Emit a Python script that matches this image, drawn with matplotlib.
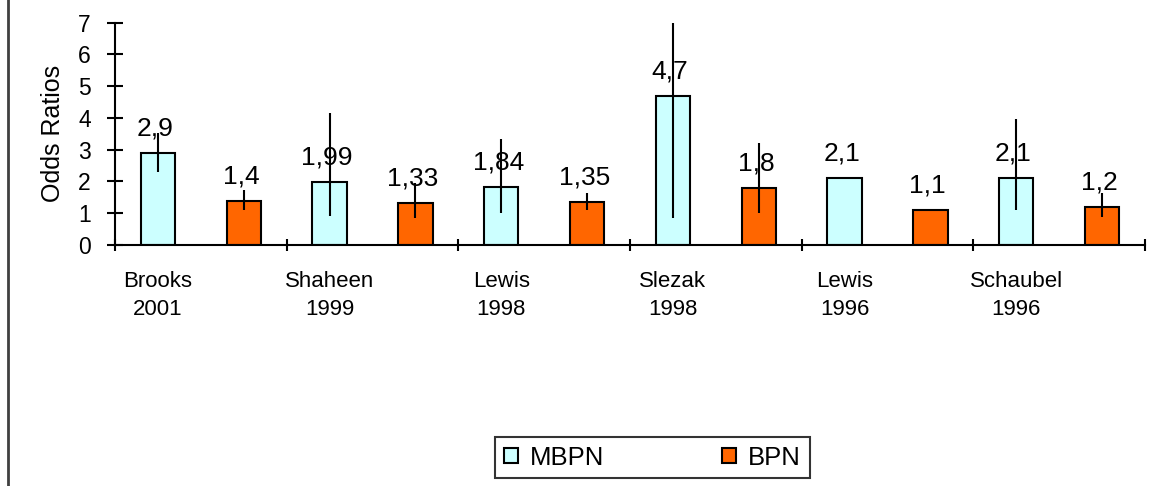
import matplotlib
matplotlib.use("Agg")
import matplotlib.pyplot as plt
from matplotlib.lines import Line2D
import numpy as np

plt.rcParams['font.family'] = ['Liberation Sans', 'DejaVu Sans']

studies = ["Brooks", "Shaheen", "Lewis", "Slezak", "Lewis", "Schaubel"]
years = ["2001", "1999", "1998", "1998", "1996", "1996"]
mbpn = [2.9, 1.99, 1.84, 4.7, 2.1, 2.1]
bpn = [1.4, 1.33, 1.35, 1.8, 1.1, 1.2]
mbpn_lo = [2.3, 0.9, 1.0, 0.84, np.nan, 1.1]
mbpn_hi = [3.52, 4.15, 3.33, 6.98, np.nan, 3.96]
bpn_lo = [1.1, 0.85, 1.1, 1.0, np.nan, 0.87]
bpn_hi = [1.73, 1.95, 1.63, 3.2, np.nan, 1.63]
series_names = ["MBPN", "BPN"]
colors = ["#CCFFFF", "#FF6600"]

W, H = 1158, 486
fig = plt.figure(figsize=(W / 100, H / 100), dpi=100)
ax = fig.add_axes([115 / W, 1 - 245 / H, 1030 / W, (245 - 22.7) / H])

x = np.arange(len(studies))
offs = [-0.25, 0.25]
vals_all = [mbpn, bpn]
lo_all = [mbpn_lo, bpn_lo]
hi_all = [mbpn_hi, bpn_hi]

for k in range(2):
    xs = x + offs[k]
    ax.bar(xs, vals_all[k], width=0.2, color=colors[k], edgecolor="black",
           linewidth=1.5, label=series_names[k], zorder=2)
    lo = np.array(lo_all[k], dtype=float)
    hi = np.array(hi_all[k], dtype=float)
    m = ~np.isnan(lo)
    ax.vlines(xs[m], lo[m], hi[m], color="black", linewidth=1.5, zorder=3)
    for xi, v in zip(xs, vals_all[k]):
        ax.annotate(f"{v:g}".replace(".", ","), (xi, v), xytext=(-2, 12.5),
                    textcoords="offset points", ha="center", va="baseline",
                    fontsize=19, zorder=4)

ax.set_xlim(-0.5, len(studies) - 0.5)
ax.set_ylim(0, 7)
ax.set_yticks(range(0, 8))
ax.tick_params(axis="y", direction="inout", length=11, width=1.5,
               labelsize=16.5, pad=12)
ax.set_xticks(np.arange(-0.5, len(studies) + 0.5, 1.0))
ax.set_xticklabels([])
ax.tick_params(axis="x", which="major", direction="inout", length=9, width=1.5)
ax.set_xticks(x - 0.25, [f"{s}\n{y}" for s, y in zip(studies, years)], minor=True)
ax.tick_params(axis="x", which="minor", length=0, labelsize=16, pad=18.5)
for t in ax.get_xticklabels(minor=True):
    t.set_linespacing(1.45)

for s in ["top", "right"]:
    ax.spines[s].set_visible(False)
for s in ["left", "bottom"]:
    ax.spines[s].set_linewidth(1.5)

ax.set_ylabel("Odds Ratios", fontsize=18)
ax.yaxis.set_label_coords(-0.049, 0.5)

leg = fig.legend(loc="center", bbox_to_anchor=(652.5 / W, 1 - 457.5 / H),
                 ncol=2, fontsize=18.5, frameon=True, fancybox=False,
                 edgecolor="black", handlelength=0.55, handleheight=0.55,
                 handletextpad=0.45, columnspacing=4.6, borderpad=0.35)
leg.get_frame().set_linewidth(1.5)

fig.add_artist(Line2D([8 / W, 8 / W], [0, 1], transform=fig.transFigure,
                      color="#404040", linewidth=2))

fig.savefig("out.png", dpi=100)
